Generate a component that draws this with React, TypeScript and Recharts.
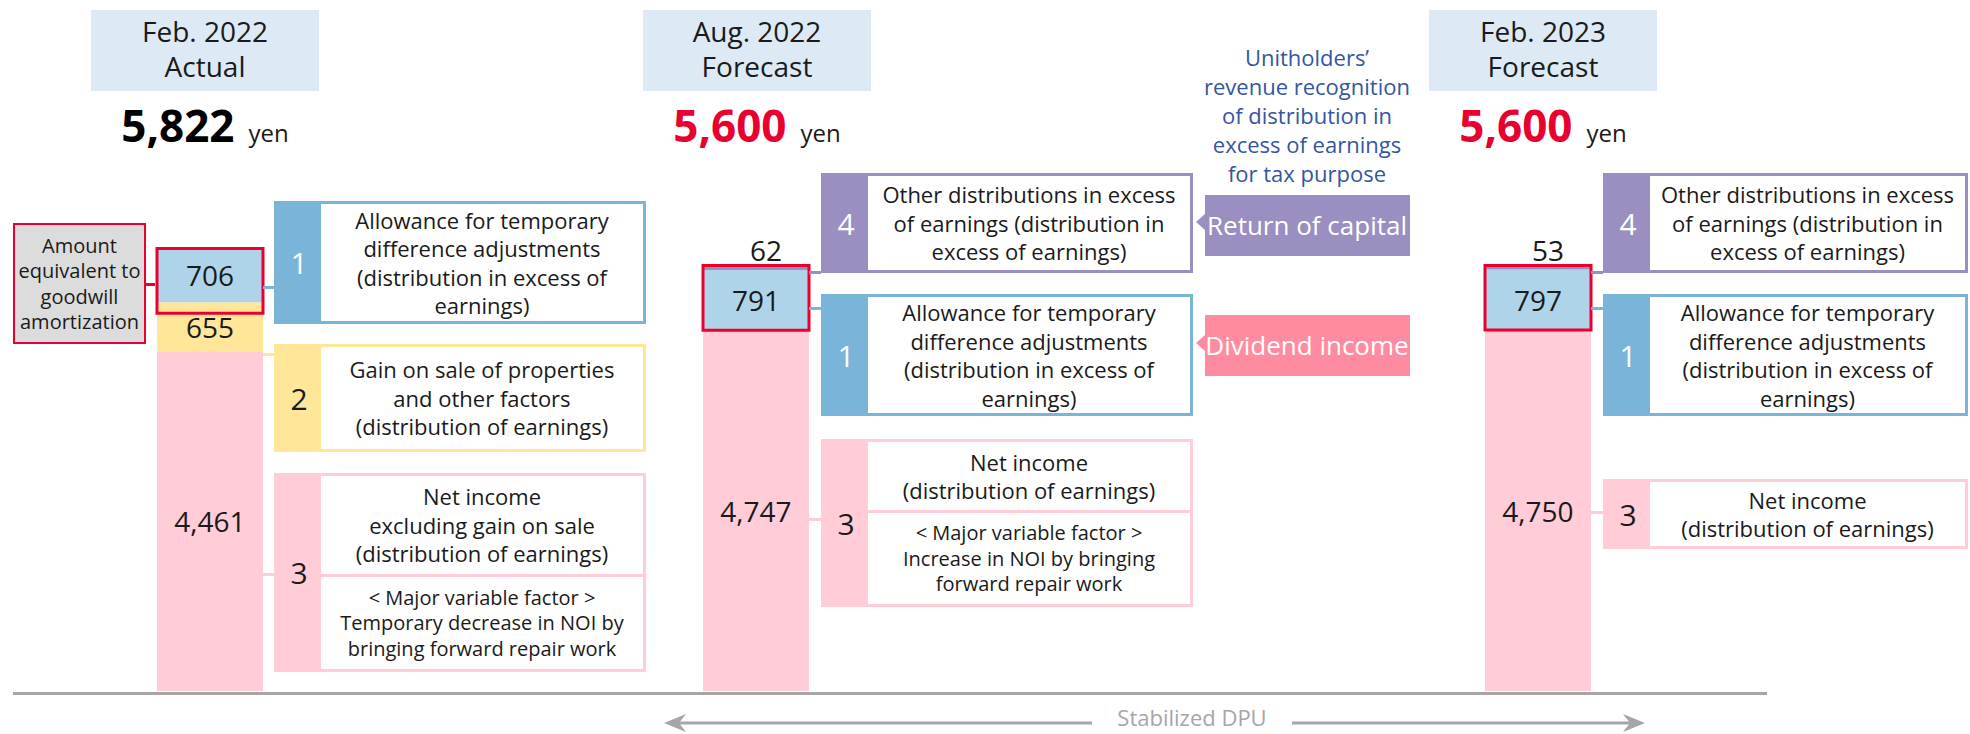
import React from 'react';
import { BarChart, Bar, XAxis, YAxis, LabelList, ReferenceArea } from 'recharts';

// distribution per unit (yen), stacked bottom -> top
const periods = ['Feb. 2022', 'Aug. 2022', 'Feb. 2023'];
const periodKinds = ['Actual', 'Forecast', 'Forecast'];
const netIncome = [4461, 4747, 4750];
const gainOnSale = [655, 0, 0];
const allowance = [706, 791, 797];
const otherExcess = [0, 62, 53];
const goodwillAmortization = [853, 853, 850];

const FONT = '"Open Sans", "Noto Sans", sans-serif';
const INK = '#1a1a1a';
const PINK = '#ffccd8';
const YELLOW = '#ffe699';
const BLUE_LIGHT = '#afd4ea';
const BLUE = '#7ab5d9';
const PURPLE = '#9b8fc1';
const RED = '#e8002f';
const ROSE = '#ff8ba1';
const HEADER = '#dde9f5';
const GREY = '#a6a6a6';
const NAVY = '#3556a0';

const BAR_LEFT = [157, 703, 1485];
const HEAD_CENTER = [205, 757, 1543];
const BAR_W = 106;
const PLOT_BOTTOM = 691;
const PLOT_H = 456;
const Y_MAX = 6000;

const fmt = (v: number) => v.toLocaleString('en-US');

const centerLabel = (props: any) => {
  const { x, y, width, height, value } = props;
  if (!value) return null;
  return (
    <text x={x + width / 2} y={y + height / 2} textAnchor="middle" dominantBaseline="central"
      fontSize={28} fill={INK} fontFamily={FONT}>{fmt(value)}</text>
  );
};

const topLabel = (props: any) => {
  const { x, y, width, value } = props;
  if (!value) return null;
  return (
    <text x={x + width / 2 + 10} y={y - 4} textAnchor="middle" fontSize={28} fill={INK} fontFamily={FONT}>
      {fmt(value)}
    </text>
  );
};

const rowFor = (i: number) => [{
  period: periods[i],
  netIncome: netIncome[i],
  gainOnSale: gainOnSale[i],
  allowance: allowance[i],
  otherExcess: otherExcess[i],
}];

const boxStyle = (i: number): React.CSSProperties => ({
  position: 'absolute', left: BAR_LEFT[i] - 4, top: PLOT_BOTTOM - PLOT_H, width: BAR_W + 8, height: PLOT_H,
});

function PeriodBar({ i }: { i: number }) {
  const row = rowFor(i);
  const total = netIncome[i] + gainOnSale[i] + allowance[i] + otherExcess[i];
  const margin = { top: 0, right: 4, bottom: 0, left: 4 };
  return (
    <>
      <div style={boxStyle(i)}>
        <BarChart width={BAR_W + 8} height={PLOT_H} data={row} barCategoryGap={0} margin={margin}>
          <XAxis dataKey="period" hide />
          <YAxis hide domain={[0, Y_MAX]} />
          <Bar dataKey="netIncome" stackId="a" fill={PINK} isAnimationActive={false}>
            <LabelList dataKey="netIncome" content={centerLabel} />
          </Bar>
          <Bar dataKey="gainOnSale" stackId="a" fill={YELLOW} isAnimationActive={false}>
            <LabelList dataKey="gainOnSale" content={centerLabel} />
          </Bar>
          <Bar dataKey="allowance" stackId="a" fill={BLUE_LIGHT} isAnimationActive={false}>
            <LabelList dataKey="allowance" content={centerLabel} />
          </Bar>
          <Bar dataKey="otherExcess" stackId="a" fill={PURPLE} isAnimationActive={false}>
            <LabelList dataKey="otherExcess" content={topLabel} />
          </Bar>
        </BarChart>
      </div>
      {/* same scale, drawn on top: goodwill amortization frame */}
      <div style={boxStyle(i)}>
        <BarChart width={BAR_W + 8} height={PLOT_H} data={row} barCategoryGap={0} margin={margin}>
          <XAxis dataKey="period" hide />
          <YAxis hide domain={[0, Y_MAX]} />
          <Bar dataKey="netIncome" fill="transparent" isAnimationActive={false} />
          <ReferenceArea y1={total - goodwillAmortization[i]} y2={total} fill="none" fillOpacity={0}
            stroke={RED} strokeWidth={3} />
        </BarChart>
      </div>
    </>
  );
}

type CalloutProps = {
  left: number; top: number; width: number; height: number;
  color: string; num: string; numColor: string;
  lines: string[]; sub?: string[]; split?: number;
};

function Callout({ left, top, width, height, color, num, numColor, lines, sub, split }: CalloutProps) {
  const textBlock = (ls: string[], size: number, lh: number) => (
    <div style={{ fontSize: size, lineHeight: `${lh}px`, color: INK, textAlign: 'center', whiteSpace: 'nowrap' }}>
      {ls.map((l, k) => <div key={k}>{l}</div>)}
    </div>
  );
  return (
    <div style={{
      position: 'absolute', left, top, width, height, boxSizing: 'border-box',
      border: `3px solid ${color}`, display: 'flex', background: '#fff',
    }}>
      <div style={{
        width: 44, background: color, color: numColor, fontSize: 30,
        display: 'flex', alignItems: 'center', justifyContent: 'center',
      }}>{num}</div>
      <div style={{ flex: 1, display: 'flex', flexDirection: 'column' }}>
        <div style={{
          height: sub ? split : undefined, flex: sub ? undefined : 1,
          display: 'flex', alignItems: 'center', justifyContent: 'center',
          borderBottom: sub ? `3px solid ${color}` : undefined, boxSizing: 'border-box',
        }}>{textBlock(lines, 22, 28.5)}</div>
        {sub && (
          <div style={{ flex: 1, display: 'flex', alignItems: 'center', justifyContent: 'center' }}>
            {textBlock(sub, 20, 25.5)}
          </div>
        )}
      </div>
    </div>
  );
}

const Conn = ({ x1, x2, y, color }: { x1: number; x2: number; y: number; color: string }) => (
  <div style={{ position: 'absolute', left: x1, top: y - 1.5, width: x2 - x1, height: 3, background: color }} />
);

const ALLOW = ['Allowance for temporary', 'difference adjustments', '(distribution in excess of', 'earnings)'];
const OTHER = ['Other distributions in excess', 'of earnings (distribution in', 'excess of earnings)'];
const NET = ['Net income', '(distribution of earnings)'];

export default function App() {
  const b1r = BAR_LEFT[0] + BAR_W;
  const b2r = BAR_LEFT[1] + BAR_W;
  const b3r = BAR_LEFT[2] + BAR_W;
  return (
    <div style={{ position: 'absolute', left: 0, top: 0, width: 1970, height: 734, overflow: 'hidden', background: '#fff', fontFamily: FONT }}>
      <style>{'.recharts-surface{overflow:visible}'}</style>
      <svg width={1970} height={734} style={{ position: 'absolute', left: 0, top: 0 }} fontFamily={FONT}>
        {periods.map((p, i) => {
          const total = netIncome[i] + gainOnSale[i] + allowance[i] + otherExcess[i];
          return (
            <g key={p}>
              <rect x={HEAD_CENTER[i] - 114} y={10} width={228} height={81} fill={HEADER} />
              <text x={HEAD_CENTER[i]} y={42} textAnchor="middle" fontSize={28} fill={INK}>{p}</text>
              <text x={HEAD_CENTER[i]} y={77} textAnchor="middle" fontSize={28} fill={INK}>{periodKinds[i]}</text>
              <text x={HEAD_CENTER[i]} y={142} textAnchor="middle">
                <tspan fontSize={44} fontWeight={700} fill={i === 0 ? '#000' : RED}>{fmt(total)}</tspan>
                <tspan fontSize={24} fill={INK} dx={14}>yen</tspan>
              </text>
            </g>
          );
        })}
        {['Unitholders\u2019', 'revenue recognition', 'of distribution in', 'excess of earnings', 'for tax purpose'].map((t, k) => (
          <text key={t} x={1307} y={66 + k * 29} textAnchor="middle" fontSize={22} fill={NAVY}>{t}</text>
        ))}
        <rect x={1205} y={195} width={205} height={61} fill={PURPLE} />
        <polygon points="1205,214 1196,222 1205,230" fill={PURPLE} />
        <text x={1307} y={235} textAnchor="middle" fontSize={26} fill="#fff">Return of capital</text>
        <rect x={1205} y={315} width={205} height={61} fill={ROSE} />
        <polygon points="1205,335 1196,343 1205,351" fill={ROSE} />
        <text x={1307} y={355} textAnchor="middle" fontSize={26} fill="#fff">Dividend income</text>
        <rect x={13} y={692} width={1754} height={3} fill={GREY} />
        <rect x={676} y={721.5} width={416} height={3} fill={GREY} />
        <rect x={1292} y={721.5} width={341} height={3} fill={GREY} />
        <polygon points="664,723 686,714 679,723 686,732" fill={GREY} />
        <polygon points="1645,723 1623,714 1630,723 1623,732" fill={GREY} />
        <text x={1192} y={726} textAnchor="middle" fontSize={22} fill={GREY}>Stabilized DPU</text>
      </svg>

      {/* goodwill note */}
      <div style={{
        position: 'absolute', left: 13, top: 223, width: 133, height: 121, boxSizing: 'border-box',
        border: `2px solid ${RED}`, background: '#dcdcdc', display: 'flex', alignItems: 'center',
        justifyContent: 'center', textAlign: 'center', fontSize: 20, lineHeight: '25.5px', color: INK,
      }}>
        <div>Amount<br />equivalent to<br />goodwill<br />amortization</div>
      </div>
      <Conn x1={146} x2={155} y={284} color={RED} />

      {periods.map((p, i) => <PeriodBar key={p} i={i} />)}

      {/* Feb. 2022 */}
      <Conn x1={b1r} x2={274} y={287} color={BLUE} />
      <Conn x1={b1r} x2={274} y={354} color={YELLOW} />
      <Conn x1={b1r} x2={274} y={574} color={PINK} />
      <Callout left={274} top={201} width={372} height={123} color={BLUE} num="1" numColor="#fff" lines={ALLOW} />
      <Callout left={274} top={344} width={372} height={108} color={YELLOW} num="2" numColor={INK}
        lines={['Gain on sale of properties', 'and other factors', '(distribution of earnings)']} />
      <Callout left={274} top={473} width={372} height={199} color={PINK} num="3" numColor={INK}
        lines={['Net income', 'excluding gain on sale', '(distribution of earnings)']} split={101}
        sub={['< Major variable factor >', 'Temporary decrease in NOI by', 'bringing forward repair work']} />

      {/* Aug. 2022 */}
      <Conn x1={b2r} x2={821} y={272} color={PURPLE} />
      <Conn x1={b2r} x2={821} y={308} color={BLUE} />
      <Conn x1={b2r} x2={821} y={519} color={PINK} />
      <Callout left={821} top={173} width={372} height={100} color={PURPLE} num="4" numColor="#fff" lines={OTHER} />
      <Callout left={821} top={294} width={372} height={122} color={BLUE} num="1" numColor="#fff" lines={ALLOW} />
      <Callout left={821} top={439} width={372} height={168} color={PINK} num="3" numColor={INK}
        lines={NET} split={71}
        sub={['< Major variable factor >', 'Increase in NOI by bringing', 'forward repair work']} />

      {/* Feb. 2023 */}
      <Conn x1={b3r} x2={1603} y={272} color={PURPLE} />
      <Conn x1={b3r} x2={1603} y={308} color={BLUE} />
      <Conn x1={b3r} x2={1603} y={512} color={PINK} />
      <Callout left={1603} top={173} width={365} height={100} color={PURPLE} num="4" numColor="#fff" lines={OTHER} />
      <Callout left={1603} top={294} width={365} height={122} color={BLUE} num="1" numColor="#fff" lines={ALLOW} />
      <Callout left={1603} top={479} width={365} height={70} color={PINK} num="3" numColor={INK} lines={NET} />
    </div>
  );
}
